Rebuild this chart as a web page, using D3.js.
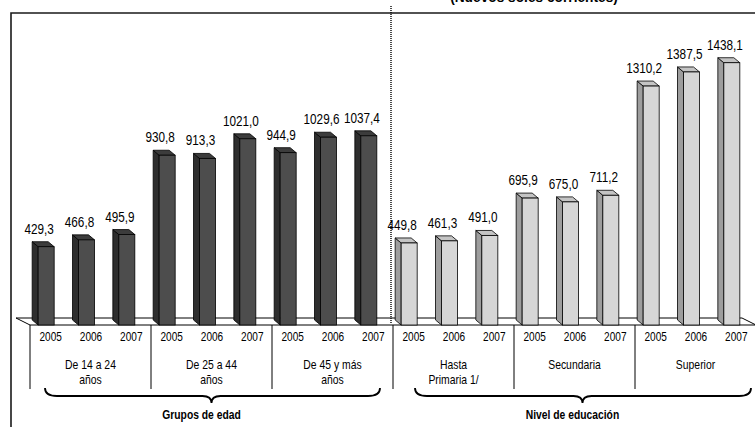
<!DOCTYPE html>
<html><head><meta charset="utf-8">
<script src="https://cdn.jsdelivr.net/npm/d3@7/dist/d3.min.js"></script>
<style>
html,body{margin:0;padding:0;background:#fff;}
text{font-family:"Liberation Sans",Arial,sans-serif;}
</style></head>
<body><svg id="c" width="755" height="427"></svg>
<script>
const title = "(Nuevos soles corrientes)";
const years = ["2005","2006","2007"];
const groups = [["De 14 a 24","años"],["De 25 a 44","años"],["De 45 y más","años"],["Hasta","Primaria 1/"],["Secundaria"],["Superior"]];
const sections = ["Grupos de edad","Nivel de educación"];
const values = [429.3,466.8,495.9, 930.8,913.3,1021.0, 944.9,1029.6,1037.4,
                449.8,461.3,491.0, 695.9,675.0,711.2, 1310.2,1387.5,1438.1];
const labels = values.map(v => v.toFixed(1).replace(".", ","));

const svg = d3.select("#c");
const slots = d3.range(values.length);
const x = d3.scaleBand().domain(slots).range([30, 756]).padding(0);
const xg = d3.scaleBand().domain(d3.range(groups.length)).range([30, 756]).padding(0);
const xs = d3.scaleBand().domain(d3.range(sections.length)).range([30, 756]).padding(0);
const y = d3.scaleLinear().domain([0, 1600]).range([325, 33.2]);
const base = y(0);

// narrow text helper (condensed look)
function ntext(parent, tx, ty, str, size, sx, weight) {
  const g = parent.append("g").attr("transform", `translate(${tx},${ty}) scale(${sx},1)`);
  return g.append("text").attr("x",0).attr("y",0).attr("text-anchor","middle")
    .attr("font-size", size).attr("font-weight", weight || "normal").attr("fill","#000").text(str);
}

// title (clipped at top as in the original)
ntext(svg, 534, 2, title, 14, 0.98, "bold");

// frame
svg.append("path").attr("d","M11,427 L11,13 L755,13").attr("fill","none").attr("stroke","#1a1a1a").attr("stroke-width",1.6);

// floor
const fd = [14, 7];
svg.append("path")
  .attr("d", `M30,${base} L${30-fd[0]},${base-fd[1]} L${756-fd[0]},${base-fd[1]} L756,${base} Z`)
  .attr("fill","#fff").attr("stroke","#000").attr("stroke-width",1);

// bars
const fw = 16, dx = 6, dy = 5;
const bars = svg.append("g").selectAll("g").data(values).join("g");
bars.each(function(v, i){
  const g = d3.select(this);
  const c = x(i) + x.bandwidth()/2;
  const fx = c - 12;
  const yt = y(v);
  const dark = i < 9;
  const cf = dark ? "#4d4d4d" : "#d6d6d6";
  const cs = dark ? "#2e2e2e" : "#9d9d9d";
  const ct = dark ? "#3c3c3c" : "#c4c4c4";
  g.append("path").attr("d",`M${fx-dx},${yt-dy} L${fx},${yt} L${fx},${base} L${fx-dx},${base-dy} Z`)
    .attr("fill",cs).attr("stroke","#000").attr("stroke-width",0.8).attr("stroke-linejoin","round");
  g.append("path").attr("d",`M${fx},${yt} L${fx+fw},${yt} L${fx+fw-dx},${yt-dy} L${fx-dx},${yt-dy} Z`)
    .attr("fill",ct).attr("stroke","#000").attr("stroke-width",0.8).attr("stroke-linejoin","round");
  g.append("rect").attr("x",fx).attr("y",yt).attr("width",fw).attr("height",base-yt)
    .attr("fill",cf).attr("stroke","#000").attr("stroke-width",0.8);
  ntext(g, c - 11, yt - 13, labels[i], 14, 0.84);
});

// dotted divider
svg.append("line").attr("x1",391).attr("x2",391).attr("y1",6).attr("y2",323)
  .attr("stroke","#000").attr("stroke-width",1.4).attr("stroke-dasharray","1,1");

// year labels
slots.forEach(i => ntext(svg, x(i) + x.bandwidth()/2 + 0.5, 341, years[i % 3], 12, 0.84));

// group separators
const seps = d3.range(groups.length + 1).map(k => k < groups.length ? xg(k) : xg.range()[1]);
svg.append("g").selectAll("line").data(seps).join("line")
  .attr("x1", d => d).attr("x2", d => d).attr("y1", base).attr("y2", 389)
  .attr("stroke","#000").attr("stroke-width",1);

// group labels
groups.forEach((lines, k) => {
  const cx = xg(k) + xg.bandwidth()/2;
  lines.forEach((ln, j) => ntext(svg, cx, 369 + j*15, ln, 13, 0.8));
});

// braces
const braceOff = [[15, -13, 0], [22, -5, 8]];
sections.forEach((s, k) => {
  const x0 = xs(k) + braceOff[k][0];
  const x1 = xs(k) + xs.bandwidth() + braceOff[k][1];
  const tip = xs(k) + xs.bandwidth()/2 + braceOff[k][2];
  const yt = 388, ym = 396, yp = 403;
  svg.append("path")
    .attr("d", `M${x0},${yt} Q${x0},${ym} ${x0+12},${ym} L${tip-9},${ym} Q${tip},${ym} ${tip},${yp} Q${tip},${ym} ${tip+9},${ym} L${x1-12},${ym} Q${x1},${ym} ${x1},${yt}`)
    .attr("fill","none").attr("stroke","#000").attr("stroke-width",1.8);
  ntext(svg, tip - 10, 419, s, 12, 0.86, "bold");
});
</script></body></html>
